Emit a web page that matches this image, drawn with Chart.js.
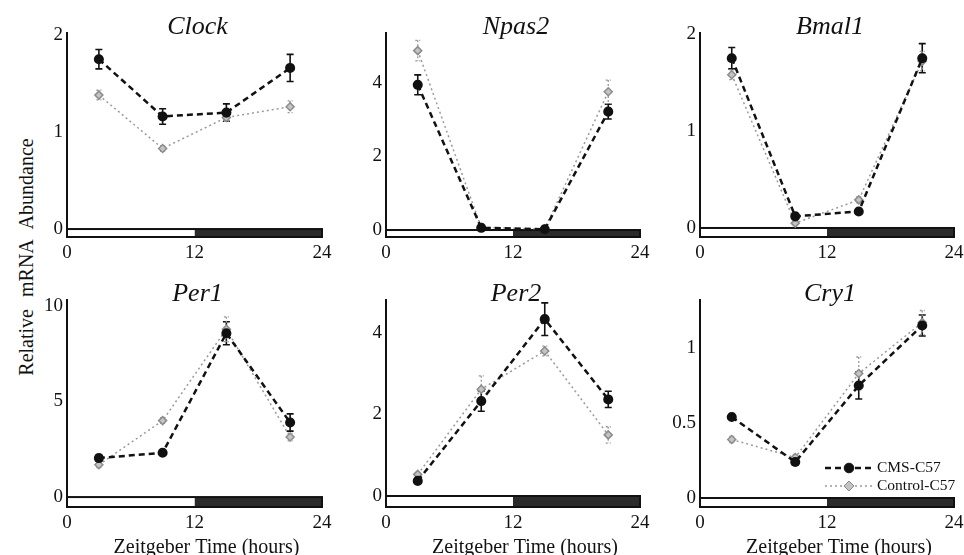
<!DOCTYPE html>
<html>
<head>
<meta charset="utf-8">
<script src="https://cdn.jsdelivr.net/npm/chart.js"></script>
<style>
  body { margin: 0; background: #fff; }
  #fig { position: relative; width: 964px; height: 555px; background: #fff; overflow: hidden; }
  .panel { position: absolute; }
  #ytitle {
    position: absolute; left: 26px; top: 257px; white-space: nowrap;
    font: 20px "Liberation Serif", "Times New Roman", serif; word-spacing: 7px;
    transform: translate(-50%, -50%) rotate(-90deg); color: #111;
  }
</style>
</head>
<body>
<div id="fig">
  <div id="ytitle">Relative mRNA Abundance</div>
</div>
<script>
// sampling times (ZT) and axis ticks
const zt = [3, 9, 15, 21];
const xTicks = [0, 12, 24];
const genes = ["Clock", "Npas2", "Bmal1", "Per1", "Per2", "Cry1"];
const seriesNames = ["CMS-C57", "Control-C57"];

const clockCms = [1.75, 1.16, 1.20, 1.66];
const clockCmsErr = [0.10, 0.08, 0.09, 0.14];
const clockCtl = [1.38, 0.83, 1.15, 1.26];
const clockCtlErr = [0.05, 0.03, 0.04, 0.06];

const npas2Cms = [3.95, 0.06, 0.02, 3.22];
const npas2CmsErr = [0.27, 0.03, 0.02, 0.20];
const npas2Ctl = [4.88, 0.07, 0.03, 3.76];
const npas2CtlErr = [0.28, 0.03, 0.02, 0.32];

const bmal1Cms = [1.75, 0.12, 0.17, 1.75];
const bmal1CmsErr = [0.11, 0.02, 0.02, 0.15];
const bmal1Ctl = [1.58, 0.05, 0.29, 1.72];
const bmal1CtlErr = [0.05, 0.02, 0.03, 0.10];

const per1Cms = [2.04, 2.32, 8.57, 3.90];
const per1CmsErr = [0.15, 0.10, 0.60, 0.45];
const per1Ctl = [1.69, 4.00, 8.78, 3.14];
const per1CtlErr = [0.15, 0.15, 0.65, 0.20];

const per2Cms = [0.37, 2.33, 4.34, 2.37];
const per2CmsErr = [0.05, 0.25, 0.40, 0.20];
const per2Ctl = [0.53, 2.62, 3.56, 1.50];
const per2CtlErr = [0.05, 0.33, 0.12, 0.20];

const cry1Cms = [0.54, 0.24, 0.75, 1.15];
const cry1CmsErr = [0.01, 0.02, 0.09, 0.07];
const cry1Ctl = [0.39, 0.27, 0.83, 1.17];
const cry1CtlErr = [0.02, 0.02, 0.11, 0.08];

const yTicks = [[0, 1, 2], [0, 2, 4], [0, 1, 2], [0, 5, 10], [0, 2, 4], [0, 0.5, 1]];
const yMin = [-0.082, -0.19, -0.093, -0.52, -0.27, -0.06];
const yMax = [2.02, 5.36, 2.01, 10.31, 4.81, 1.32];

const cmsData = [clockCms, npas2Cms, bmal1Cms, per1Cms, per2Cms, cry1Cms];
const cmsErr = [clockCmsErr, npas2CmsErr, bmal1CmsErr, per1CmsErr, per2CmsErr, cry1CmsErr];
const ctlData = [clockCtl, npas2Ctl, bmal1Ctl, per1Ctl, per2Ctl, cry1Ctl];
const ctlErr = [clockCtlErr, npas2CtlErr, bmal1CtlErr, per1CtlErr, per2CtlErr, cry1CtlErr];

// layout of the chart areas (page pixels)
const colL = [67, 386, 700];
const colR = [322, 640, 954];
const rowTop = [0, 260];
const rowPadTop = [33, 40];
const rowArea = [204, 207];
const rowXH = [33, 48];
const yAxisW = 45;
const padRight = 16;

const SERIF = '"Liberation Serif", "Times New Roman", serif';
const CMS_COLOR = "#111";
const CTL_COLOR = "#9a9a9a";

const decor = {
  id: "decor",
  beforeDatasetsDraw(chart, args, opts) {
    const { ctx, chartArea: a, scales: { x, y } } = chart;
    ctx.save();
    // light / dark bar under the zero line
    const y0 = y.getPixelForValue(0);
    const xm = x.getPixelForValue(12);
    ctx.fillStyle = "#2b2b2b";
    ctx.fillRect(xm, y0, a.right - xm, a.bottom - y0);
    ctx.fillStyle = "#fff";
    ctx.fillRect(a.left, y0, xm - a.left, a.bottom - y0);
    ctx.strokeStyle = "#111";
    ctx.lineWidth = 2;
    ctx.strokeRect(a.left, y0, a.right - a.left, a.bottom - y0);

    // error bars
    chart.data.datasets.forEach((ds) => {
      ctx.strokeStyle = ds.borderColor;
      ctx.lineWidth = ds.errWidth;
      ctx.setLineDash(ds.errDash);
      ds.data.forEach((p, i) => {
        const e = ds.err[i];
        const px = x.getPixelForValue(p.x);
        const top = y.getPixelForValue(p.y + e);
        const bot = y.getPixelForValue(p.y - e);
        ctx.beginPath();
        ctx.moveTo(px, top); ctx.lineTo(px, bot);
        ctx.moveTo(px - ds.capW, top); ctx.lineTo(px + ds.capW, top);
        ctx.moveTo(px - ds.capW, bot); ctx.lineTo(px + ds.capW, bot);
        ctx.stroke();
      });
    });
    ctx.restore();
  },
  afterDraw(chart, args, opts) {
    const { ctx, chartArea: a } = chart;
    ctx.save();
    ctx.fillStyle = "#111";
    ctx.font = "italic 26px " + SERIF;
    ctx.textAlign = "center";
    ctx.textBaseline = "alphabetic";
    ctx.fillText(opts.title, (a.left + a.right) / 2 + 3, a.top + 1);

    if (opts.xTitle) {
      ctx.font = "20px " + SERIF;
      ctx.fillText("Zeitgeber Time (hours)", (a.left + a.right) / 2 + 12, a.bottom + 46);
    }

    if (opts.legend) {
      const rows = [
        { y: a.bottom - 39, ds: chart.data.datasets[0] },
        { y: a.bottom - 21, ds: chart.data.datasets[1] },
      ];
      rows.forEach((r) => {
        const x1 = a.right - 129, x2 = a.right - 81, xm = (x1 + x2) / 2;
        ctx.strokeStyle = r.ds.borderColor;
        ctx.lineWidth = r.ds.borderWidth;
        ctx.setLineDash(r.ds.borderDash);
        ctx.beginPath(); ctx.moveTo(x1, r.y); ctx.lineTo(x2, r.y); ctx.stroke();
        ctx.setLineDash([]);
        ctx.fillStyle = r.ds.pointBackgroundColor;
        ctx.strokeStyle = r.ds.pointBorderColor;
        ctx.lineWidth = 1;
        Chart.helpers.drawPoint(ctx, { pointStyle: r.ds.pointStyle, radius: r.ds.pointRadius + 1, borderWidth: 1 }, xm, r.y);
        ctx.fillStyle = "#111";
        ctx.font = "15.5px " + SERIF;
        ctx.textAlign = "left";
        ctx.textBaseline = "middle";
        ctx.fillText(r.ds.label, a.right - 77, r.y);
      });
    }
    ctx.restore();
  },
};

const fig = document.getElementById("fig");

genes.forEach((gene, i) => {
  const col = i % 3, row = Math.floor(i / 3);
  const div = document.createElement("div");
  div.className = "panel";
  const w = colR[col] - colL[col] + yAxisW + padRight;
  const h = rowPadTop[row] + rowArea[row] + rowXH[row];
  div.style.left = (colL[col] - yAxisW) + "px";
  div.style.top = rowTop[row] + "px";
  div.style.width = w + "px";
  div.style.height = h + "px";
  const canvas = document.createElement("canvas");
  div.appendChild(canvas);
  fig.appendChild(div);

  const data = {
    datasets: [
      {
        label: seriesNames[0],
        data: zt.map((t, k) => ({ x: t, y: cmsData[i][k] })),
        err: cmsErr[i],
        borderColor: CMS_COLOR,
        borderWidth: 2.5,
        borderDash: [6, 4],
        pointStyle: "circle",
        pointRadius: 3.8,
        pointBackgroundColor: "#111",
        pointBorderColor: "#111",
        errWidth: 1.6,
        errDash: [],
        capW: 3.5,
      },
      {
        label: seriesNames[1],
        data: zt.map((t, k) => ({ x: t, y: ctlData[i][k] })),
        err: ctlErr[i],
        borderColor: CTL_COLOR,
        borderWidth: 1.5,
        borderDash: [2, 3],
        pointStyle: "rectRot",
        pointRadius: 4,
        pointBackgroundColor: "#c4c4c4",
        pointBorderColor: "#8c8c8c",
        errWidth: 1.3,
        errDash: [2, 2],
        capW: 2.5,
      },
    ],
  };

  const options = {
    responsive: true,
    maintainAspectRatio: false,
    animation: false,
    events: [],
    layout: { padding: { top: rowPadTop[row], right: padRight, left: 0, bottom: 0 } },
    plugins: {
      legend: { display: false },
      tooltip: { enabled: false },
      decor: { title: gene, xTitle: row === 1, legend: i === 5 },
    },
    scales: {
      x: {
        type: "linear",
        min: 0,
        max: 24,
        grid: { display: false, drawTicks: false },
        border: { display: false },
        afterBuildTicks: (s) => { s.ticks = xTicks.map((v) => ({ value: v })); },
        afterFit: (s) => { s.height = rowXH[row]; },
        ticks: { color: "#111", padding: 5, maxRotation: 0, font: { family: SERIF, size: 19, lineHeight: 1.2 } },
      },
      y: {
        type: "linear",
        min: yMin[i],
        max: yMax[i],
        grid: { display: false, drawTicks: false },
        border: { display: true, color: "#111", width: 2 },
        afterBuildTicks: (s) => { s.ticks = yTicks[i].map((v) => ({ value: v })); },
        afterFit: (s) => { s.width = yAxisW; },
        ticks: { color: "#111", padding: 4, font: { family: SERIF, size: 19 }, callback: (v) => String(v) },
      },
    },
  };

  new Chart(canvas.getContext("2d"), { type: "line", data, options, plugins: [decor] });
});
</script>
</body>
</html>
